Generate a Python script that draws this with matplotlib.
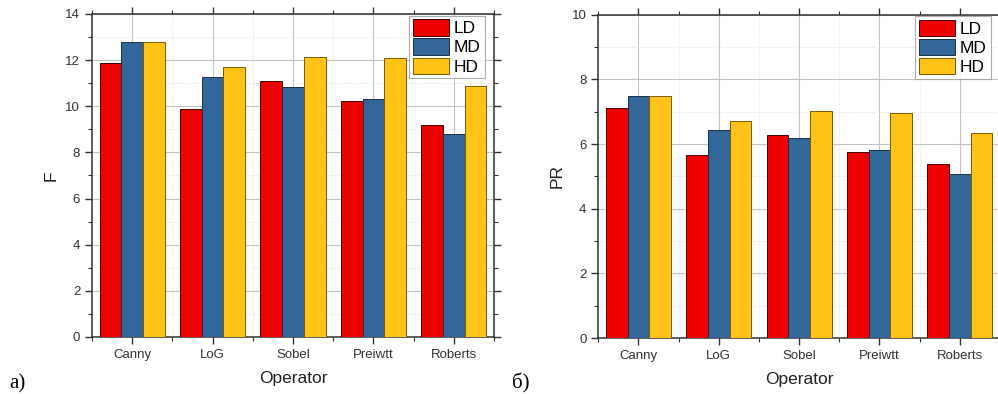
import numpy as np
import matplotlib
matplotlib.use("Agg")
import matplotlib.pyplot as plt
from matplotlib.ticker import MultipleLocator, FixedLocator

# Data
operators = ["Canny", "LoG", "Sobel", "Preiwtt", "Roberts"]
series = ["LD", "MD", "HD"]

f_ld = [11.89, 9.87, 11.10, 10.22, 9.19]
f_md = [12.77, 11.26, 10.85, 10.30, 8.80]
f_hd = [12.80, 11.72, 12.15, 12.08, 10.88]

pr_ld = [7.10, 5.66, 6.28, 5.75, 5.38]
pr_md = [7.48, 6.43, 6.20, 5.82, 5.06]
pr_hd = [7.48, 6.72, 7.02, 6.96, 6.33]

# Colors
RED = "#EE0000"
BLUE = "#336699"
YELLOW = "#FFC317"
EDGES = ["#4a0000", "#1c2f45", "#7a5c00"]

plt.rcParams["font.family"] = ["Liberation Sans", "DejaVu Sans"]

fig = plt.figure(figsize=(9.98, 3.94), dpi=100)
ax1 = fig.add_axes([0.0922, 0.1447, 0.4028, 0.8198])
ax2 = fig.add_axes([0.5995, 0.1421, 0.4025, 0.8206])


def draw_panel(ax, vals, ylabel, ymax):
    x = np.arange(len(operators))
    w = 0.27
    colors = [RED, BLUE, YELLOW]
    for i, (v, name) in enumerate(zip(vals, series)):
        ax.bar(x + (i - 1) * w, v, width=w, color=colors[i], edgecolor=EDGES[i],
               linewidth=0.7, label=name, zorder=3)

    ax.set_xlim(-0.5, len(operators) - 0.5)
    ax.set_ylim(0, ymax)
    ax.set_xticks(x)
    ax.set_xticklabels(operators)
    ax.xaxis.set_minor_locator(FixedLocator(np.arange(-0.5, len(operators), 1.0)))
    ax.yaxis.set_major_locator(MultipleLocator(2))
    ax.yaxis.set_minor_locator(MultipleLocator(1))

    ax.grid(which="major", color="#c4c4c4", linewidth=0.8, zorder=0)
    ax.grid(which="minor", color="#dcdcdc", linewidth=0.6, linestyle=":", zorder=0)
    ax.set_axisbelow(True)

    ax.tick_params(which="both", direction="out", top=True, right=True,
                   labelsize=9.5, labelcolor="#333333", color="#333333")
    ax.tick_params(which="major", length=5, width=1.0)
    ax.tick_params(which="minor", length=3, width=0.8)
    for s in ax.spines.values():
        s.set_linewidth(1.1)
        s.set_color("#333333")

    ax.set_xlabel("Operator", fontsize=12.5, color="#222222", labelpad=7)
    ax.set_ylabel(ylabel, fontsize=12.5, color="#222222", labelpad=5)

    leg = ax.legend(loc="upper right", bbox_to_anchor=(0.977, 0.995),
                    borderaxespad=0, fontsize=12.5, frameon=True, fancybox=False,
                    handlelength=2.05, handleheight=1.05, labelspacing=0.12,
                    handletextpad=0.3, borderpad=0.22)
    leg.get_frame().set_edgecolor("#999999")
    leg.get_frame().set_linewidth(0.8)
    leg.set_zorder(5)


draw_panel(ax1, [f_ld, f_md, f_hd], "F", 14)
draw_panel(ax2, [pr_ld, pr_md, pr_hd], "PR", 10)

fig.text(0.009, 0.014, "а)", fontsize=15, va="baseline",
         family=["Liberation Serif", "DejaVu Serif"])
fig.text(0.513, 0.014, "б)", fontsize=15, va="baseline",
         family=["Liberation Serif", "DejaVu Serif"])

fig.savefig("out.png", dpi=100)
plt.close(fig)
